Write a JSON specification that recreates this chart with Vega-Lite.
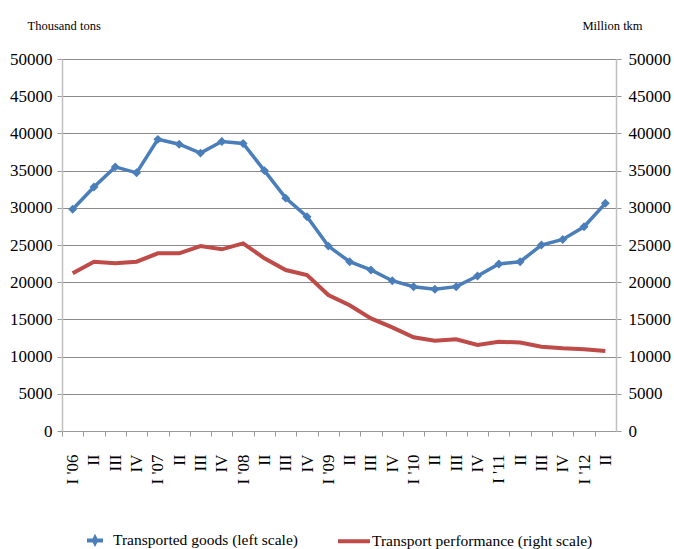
{
  "$schema": "https://vega.github.io/schema/vega-lite/v6.json",
  "width": 554,
  "height": 372,
  "autosize": "none",
  "padding": {"left": 62, "top": 59, "right": 58, "bottom": 118},
  "background": "white",
  "config": {
    "font": "Liberation Serif",
    "view": {"stroke": null},
    "axis": {
      "labelFont": "Liberation Serif",
      "labelColor": "black",
      "titleFont": "Liberation Serif",
      "titleColor": "black",
      "titleFontWeight": "normal"
    },
    "legend": {"labelFont": "Liberation Serif"}
  },
  "data": {
    "values": [
      {"q": "I '06", "goods": 29800, "perf": 21200},
      {"q": "II '06", "goods": 32800, "perf": 22760},
      {"q": "III '06", "goods": 35500, "perf": 22540},
      {"q": "IV '06", "goods": 34700, "perf": 22760},
      {"q": "I '07", "goods": 39200, "perf": 23880},
      {"q": "II '07", "goods": 38550, "perf": 23880},
      {"q": "III '07", "goods": 37350, "perf": 24860},
      {"q": "IV '07", "goods": 38900, "perf": 24420},
      {"q": "I '08", "goods": 38650, "perf": 25220},
      {"q": "II '08", "goods": 35000, "perf": 23210},
      {"q": "III '08", "goods": 31300, "perf": 21640},
      {"q": "IV '08", "goods": 28800, "perf": 20970},
      {"q": "I '09", "goods": 24850, "perf": 18280},
      {"q": "II '09", "goods": 22750, "perf": 16900},
      {"q": "III '09", "goods": 21650, "perf": 15140},
      {"q": "IV '09", "goods": 20200, "perf": 13930},
      {"q": "I '10", "goods": 19400, "perf": 12590},
      {"q": "II '10", "goods": 19050, "perf": 12140},
      {"q": "III '10", "goods": 19400, "perf": 12320},
      {"q": "IV '10", "goods": 20830, "perf": 11560},
      {"q": "I '11", "goods": 22450, "perf": 12000},
      {"q": "II '11", "goods": 22750, "perf": 11880},
      {"q": "III '11", "goods": 25000, "perf": 11330},
      {"q": "IV '11", "goods": 25750, "perf": 11110},
      {"q": "I '12", "goods": 27450, "perf": 10980},
      {"q": "II '12", "goods": 30600, "perf": 10750}
    ]
  },
  "layer": [
    {
      "mark": {
        "type": "line",
        "strokeWidth": 3.5,
        "point": {"shape": "diamond", "size": 80, "filled": true}
      },
      "encoding": {
        "x": {
          "field": "q",
          "type": "nominal",
          "sort": null,
          "scale": {"type": "point", "padding": 0.5},
          "axis": {
            "title": null,
            "labelFont": "Liberation Serif",
            "labelAngle": 270,
            "labelAlign": "right",
            "labelBaseline": "middle",
            "labelFontSize": 17,
            "labelPadding": 18,
            "labelExpr": "indexof(datum.value, 'I ') == 0 ? datum.value : split(datum.value, ' ')[0]",
            "tickOffset": -10.65,
            "labelOffset": 10.65,
            "tickSize": 5,
            "tickColor": "#999999",
            "domainColor": "#999999",
            "domainWidth": 1,
            "grid": false,
            "labelOverlap": false
          }
        },
        "y": {
          "field": "goods",
          "type": "quantitative",
          "scale": {"domain": [0, 50000], "nice": false},
          "axis": {
            "orient": "left",
            "values": [0, 5000, 10000, 15000, 20000, 25000, 30000, 35000, 40000, 45000, 50000],
            "format": "d",
            "labelFont": "Liberation Serif",
            "labelFontSize": 17,
            "labelPadding": 5,
            "tickSize": 5,
            "tickColor": "#999999",
            "domainColor": "#c0c0c0",
            "domainWidth": 1.5,
            "grid": true,
            "gridColor": "#8a8a8a",
            "gridWidth": 1,
            "title": "Thousand tons",
            "titleFont": "Liberation Serif",
            "titleFontSize": 12.5,
            "titleAngle": 0,
            "titleAlign": "left",
            "titleBaseline": "middle",
            "titleX": -35,
            "titleY": -34
          }
        },
        "color": {
          "datum": "Transported goods (left scale)",
          "type": "nominal",
          "scale": {
            "domain": ["Transported goods (left scale)", "Transport performance (right scale)"],
            "range": ["#4a7ebb", "#be4b48"]
          },
          "legend": {
            "title": null,
            "orient": "none",
            "direction": "horizontal",
            "legendX": 15,
            "legendY": 463,
            "labelFont": "Liberation Serif",
            "labelFontSize": 15.5,
            "labelColor": "black",
            "labelLimit": 400,
            "labelOffset": 0,
            "columnPadding": 32,
            "symbolSize": 1024,
            "symbolStrokeWidth": 4,
            "symbolType": "stroke",
            "encode": {
              "symbols": {
                "update": {
                  "shape": [
                    {"test": "datum.value === 'Transported goods (left scale)'", "value": "M-0.5,0L0.5,0M0,-0.14L0.07,0L0,0.14L-0.07,0Z"},
                    {"value": "stroke"}
                  ],
                  "fill": [
                    {"test": "datum.value === 'Transported goods (left scale)'", "value": "#4a7ebb"},
                    {"value": "transparent"}
                  ],
                  "strokeWidth": {"value": 4}
                }
              }
            }
          }
        }
      }
    },
    {
      "mark": {"type": "line", "strokeWidth": 4},
      "encoding": {
        "x": {"field": "q", "type": "nominal", "sort": null},
        "y": {
          "field": "perf",
          "type": "quantitative",
          "scale": {"domain": [0, 50000], "nice": false},
          "axis": {
            "orient": "right",
            "values": [0, 5000, 10000, 15000, 20000, 25000, 30000, 35000, 40000, 45000, 50000],
            "format": "d",
            "labelFont": "Liberation Serif",
            "labelFontSize": 17,
            "labelPadding": 7,
            "tickSize": 5,
            "tickColor": "#999999",
            "domainColor": "#c0c0c0",
            "domainWidth": 1.5,
            "grid": false,
            "title": "Million tkm",
            "titleFont": "Liberation Serif",
            "titleFontSize": 12.5,
            "titleAngle": 0,
            "titleAlign": "left",
            "titleBaseline": "middle",
            "titleX": -34,
            "titleY": -34
          }
        },
        "color": {"datum": "Transport performance (right scale)", "type": "nominal"}
      }
    }
  ],
  "resolve": {"scale": {"y": "independent"}}
}
